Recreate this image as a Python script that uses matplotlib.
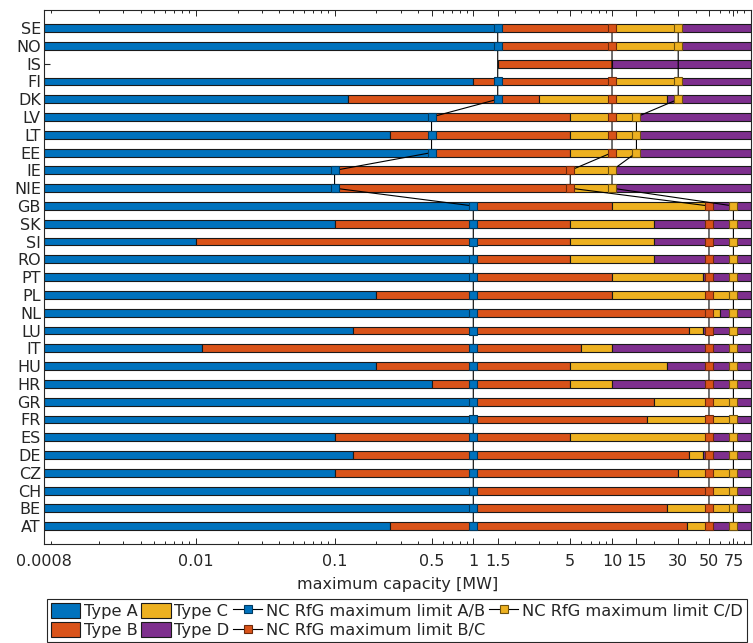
import matplotlib.pyplot as plt
import numpy as np
from matplotlib.patches import Patch
from matplotlib.ticker import FixedLocator, LogLocator, NullFormatter

countries = ["SE", "NO", "IS", "FI", "DK", "LV", "LT", "EE", "IE", "NIE",
             "GB", "SK", "SI", "RO", "PT", "PL", "NL", "LU", "IT", "HU", "HR",
             "GR", "FR", "ES", "DE", "CZ", "CH", "BE", "AT"]

# national upper limits [MW] of type A, B and C; type D runs to the axis end
limit_a = [1.5, 1.5, 1.5, 1, 0.125, 0.5, 0.25, 0.5, 0.1, 0.1,
           1, 0.1, 0.01, 1, 1, 0.2, 1, 0.135, 0.011, 0.2, 0.5,
           1, 1, 0.1, 0.135, 0.1, 1, 1, 0.25]
limit_b = [10, 10, 10, 10, 3, 5, 5, 5, 5, 5,
           10, 5, 5, 5, 10, 10, 50, 36, 6, 5, 5,
           20, 18, 5, 36, 30, 50, 25, 35]
limit_c = [30, 30, 10, 30, 25, 15, 15, 15, 10, 10,
           50, 20, 20, 20, 45, 75, 60, 45, 10, 25, 10,
           75, 75, 50, 45, 75, 75, 75, 50]
no_type_a = ["IS"]

# NC RfG maximum limits per country (synchronous area)
nc_ab = [1.5, 1.5, 1.5, 1.5, 1.5, 0.5, 0.5, 0.5, 0.1, 0.1,
         1, 1, 1, 1, 1, 1, 1, 1, 1, 1, 1,
         1, 1, 1, 1, 1, 1, 1, 1]
nc_bc = [10, 10, 10, 10, 10, 10, 10, 10, 5, 5,
         50, 50, 50, 50, 50, 50, 50, 50, 50, 50, 50,
         50, 50, 50, 50, 50, 50, 50, 50]
nc_cd = [30, 30, 30, 30, 30, 15, 15, 15, 10, 10,
         75, 75, 75, 75, 75, 75, 75, 75, 75, 75, 75,
         75, 75, 75, 75, 75, 75, 75, 75]
no_markers = ["IS"]

x_ticks = [0.0008, 0.01, 0.1, 0.5, 1, 1.5, 5, 10, 15, 30, 50, 75]
x_ticklabels = ["0.0008", "0.01", "0.1", "0.5", "1", "1.5", "5", "10", "15", "30", "50", "75"]
x_min, x_max = 0.0008, 100

col_a, col_b, col_c, col_d = "#0072BD", "#D95319", "#EDB120", "#7E2F8E"
edge_a, edge_b, edge_c, edge_d = "#003a60", "#6d2a0c", "#6e520f", "#3f1747"
ink = "#262626"

plt.rcParams["font.family"] = "DejaVu Sans"
plt.rcParams["text.color"] = ink
plt.rcParams["axes.labelcolor"] = ink
plt.rcParams["xtick.color"] = ink
plt.rcParams["ytick.color"] = ink

fig = plt.figure(figsize=(7.53, 6.43), dpi=100)
ax = fig.add_axes([0.058, 0.154, 0.939, 0.830])

y = np.arange(1, len(countries) + 1)
h = 0.44
bar_kw = dict(height=h, edgecolor="#1a1a1a", linewidth=0.8, zorder=2)
for i, c in enumerate(countries):
    if c not in no_type_a:
        ax.barh(y[i], limit_a[i] - x_min, left=x_min, color=col_a, **bar_kw)
    ax.barh(y[i], limit_b[i] - limit_a[i], left=limit_a[i], color=col_b, **bar_kw)
    if limit_c[i] > limit_b[i]:
        ax.barh(y[i], limit_c[i] - limit_b[i], left=limit_b[i], color=col_c, **bar_kw)
    ax.barh(y[i], x_max - limit_c[i], left=limit_c[i], color=col_d, **bar_kw)

marked = [i for i, c in enumerate(countries) if c not in no_markers]
line_kw = dict(color="k", linewidth=0.8, marker="s", markersize=5.3,
               markeredgewidth=0.8, markevery=marked, zorder=3)
h_ab, = ax.plot(nc_ab, y, markerfacecolor=col_a, markeredgecolor=edge_a, **line_kw)
h_bc, = ax.plot(nc_bc, y, markerfacecolor=col_b, markeredgecolor=edge_b, **line_kw)
h_cd, = ax.plot(nc_cd, y, markerfacecolor=col_c, markeredgecolor=edge_c, **line_kw)

ax.set_xscale("log")
ax.set_xlim(x_min, x_max)
ax.set_ylim(len(countries) + 1, 0)
ax.xaxis.set_major_locator(FixedLocator(x_ticks))
ax.set_xticklabels(x_ticklabels)
ax.xaxis.set_minor_locator(LogLocator(base=10, subs=np.arange(2, 10)))
ax.xaxis.set_minor_formatter(NullFormatter())
ax.set_yticks(y)
ax.set_yticklabels(countries)
ax.tick_params(axis="both", which="both", direction="in", top=True, right=True, labelsize=11.5)
ax.tick_params(axis="x", which="major", length=4.5, width=0.7, pad=7)
ax.tick_params(axis="x", which="minor", length=2.5, width=0.7)
ax.tick_params(axis="y", length=4, width=0.8, pad=2)
for s in ax.spines.values():
    s.set_color(ink)
    s.set_linewidth(0.8)
ax.set_xlabel("maximum capacity [MW]", fontsize=11.5, labelpad=6)

patch_kw = dict(edgecolor="#1a1a1a", linewidth=0.8)
handles = [Patch(facecolor=col_a, label="Type A", **patch_kw),
           Patch(facecolor=col_b, label="Type B", **patch_kw),
           Patch(facecolor=col_c, label="Type C", **patch_kw),
           Patch(facecolor=col_d, label="Type D", **patch_kw),
           h_ab, h_bc, h_cd]
labels = ["Type A", "Type B", "Type C", "Type D",
          "NC RfG maximum limit A/B", "NC RfG maximum limit B/C",
          "NC RfG maximum limit C/D"]
leg = fig.legend(handles, labels, ncol=4, loc="upper left",
                 bbox_to_anchor=(47 / 753, 1 - 599 / 643), fontsize=11.7,
                 frameon=True, fancybox=False, framealpha=1, edgecolor=ink,
                 handlelength=1.8, handleheight=1.0, handletextpad=0.2,
                 columnspacing=0.25, labelspacing=0.2, borderpad=0.25,
                 borderaxespad=0)
leg.get_frame().set_linewidth(0.8)

fig.savefig("out.png", dpi=100)
